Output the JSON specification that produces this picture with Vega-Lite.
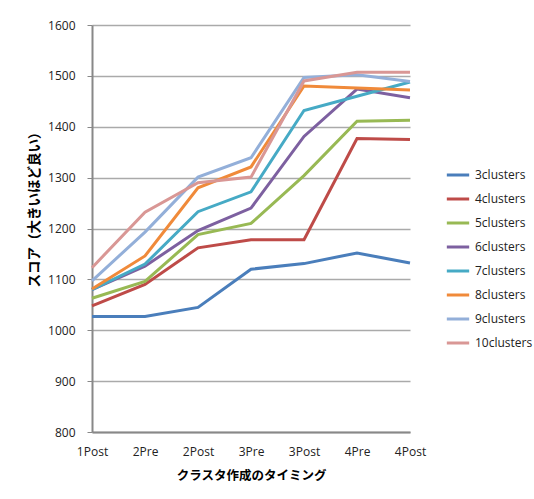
{
  "$schema": "https://vega.github.io/schema/vega-lite/v6.json",
  "width": 318,
  "height": 407,
  "autosize": "none",
  "padding": {"left": 92, "top": 25, "right": 124, "bottom": 67},
  "background": "white",
  "config": {
    "font": "Open Sans",
    "view": {"stroke": null}
  },
  "data": {
    "values": [
      {"t": "1Post", "series": "3clusters", "score": 1027},
      {"t": "2Pre", "series": "3clusters", "score": 1027},
      {"t": "2Post", "series": "3clusters", "score": 1045},
      {"t": "3Pre", "series": "3clusters", "score": 1120},
      {"t": "3Post", "series": "3clusters", "score": 1131},
      {"t": "4Pre", "series": "3clusters", "score": 1152},
      {"t": "4Post", "series": "3clusters", "score": 1132},
      {"t": "1Post", "series": "4clusters", "score": 1048},
      {"t": "2Pre", "series": "4clusters", "score": 1090},
      {"t": "2Post", "series": "4clusters", "score": 1162},
      {"t": "3Pre", "series": "4clusters", "score": 1178},
      {"t": "3Post", "series": "4clusters", "score": 1178},
      {"t": "4Pre", "series": "4clusters", "score": 1377},
      {"t": "4Post", "series": "4clusters", "score": 1375},
      {"t": "1Post", "series": "5clusters", "score": 1063},
      {"t": "2Pre", "series": "5clusters", "score": 1096},
      {"t": "2Post", "series": "5clusters", "score": 1188},
      {"t": "3Pre", "series": "5clusters", "score": 1210},
      {"t": "3Post", "series": "5clusters", "score": 1304},
      {"t": "4Pre", "series": "5clusters", "score": 1411},
      {"t": "4Post", "series": "5clusters", "score": 1413},
      {"t": "1Post", "series": "6clusters", "score": 1080},
      {"t": "2Pre", "series": "6clusters", "score": 1126},
      {"t": "2Post", "series": "6clusters", "score": 1196},
      {"t": "3Pre", "series": "6clusters", "score": 1240},
      {"t": "3Post", "series": "6clusters", "score": 1381},
      {"t": "4Pre", "series": "6clusters", "score": 1474},
      {"t": "4Post", "series": "6clusters", "score": 1457},
      {"t": "1Post", "series": "7clusters", "score": 1080},
      {"t": "2Pre", "series": "7clusters", "score": 1130},
      {"t": "2Post", "series": "7clusters", "score": 1233},
      {"t": "3Pre", "series": "7clusters", "score": 1272},
      {"t": "3Post", "series": "7clusters", "score": 1432},
      {"t": "4Pre", "series": "7clusters", "score": 1460},
      {"t": "4Post", "series": "7clusters", "score": 1488},
      {"t": "1Post", "series": "8clusters", "score": 1081},
      {"t": "2Pre", "series": "8clusters", "score": 1146},
      {"t": "2Post", "series": "8clusters", "score": 1280},
      {"t": "3Pre", "series": "8clusters", "score": 1321},
      {"t": "3Post", "series": "8clusters", "score": 1480},
      {"t": "4Pre", "series": "8clusters", "score": 1476},
      {"t": "4Post", "series": "8clusters", "score": 1472},
      {"t": "1Post", "series": "9clusters", "score": 1097},
      {"t": "2Pre", "series": "9clusters", "score": 1193},
      {"t": "2Post", "series": "9clusters", "score": 1301},
      {"t": "3Pre", "series": "9clusters", "score": 1339},
      {"t": "3Post", "series": "9clusters", "score": 1497},
      {"t": "4Pre", "series": "9clusters", "score": 1502},
      {"t": "4Post", "series": "9clusters", "score": 1489},
      {"t": "1Post", "series": "10clusters", "score": 1123},
      {"t": "2Pre", "series": "10clusters", "score": 1232},
      {"t": "2Post", "series": "10clusters", "score": 1290},
      {"t": "3Pre", "series": "10clusters", "score": 1301},
      {"t": "3Post", "series": "10clusters", "score": 1490},
      {"t": "4Pre", "series": "10clusters", "score": 1507},
      {"t": "4Post", "series": "10clusters", "score": 1507}
    ]
  },
  "mark": {"type": "line", "strokeWidth": 3, "strokeJoin": "miter"},
  "encoding": {
    "x": {
      "field": "t",
      "type": "ordinal",
      "sort": null,
      "scale": {"type": "point", "padding": 0},
      "axis": {
        "title": "クラスタ作成のタイミング",
        "titleFont": "Noto Sans CJK JP",
        "titleFontWeight": "bold",
        "titleFontSize": 12.5,
        "titleColor": "#000000",
        "titlePadding": 12,
        "labelAngle": 0,
        "labelFontSize": 12,
        "labelColor": "#222222",
        "labelPadding": 14,
        "ticks": false,
        "grid": false,
        "domainColor": "#888888",
        "domainWidth": 2
      }
    },
    "y": {
      "field": "score",
      "type": "quantitative",
      "scale": {"domain": [800, 1600], "nice": false, "zero": false},
      "axis": {
        "title": "スコア（大きいほど良い）",
        "titleFont": "Noto Sans CJK JP",
        "titleFontWeight": "bold",
        "titleFontSize": 13.5,
        "titleColor": "#000000",
        "titlePadding": 6,
        "titleY": 181,
        "format": "d",
        "values": [800, 900, 1000, 1100, 1200, 1300, 1400, 1500, 1600],
        "labelFontSize": 12,
        "labelColor": "#222222",
        "labelPadding": 12,
        "tickSize": 5,
        "tickColor": "#888888",
        "gridColor": "#aaaaaa",
        "gridWidth": 1.5,
        "domainColor": "#888888",
        "domainWidth": 2
      }
    },
    "color": {
      "field": "series",
      "type": "nominal",
      "scale": {
        "domain": ["3clusters", "4clusters", "5clusters", "6clusters", "7clusters", "8clusters", "9clusters", "10clusters"],
        "range": ["#4a7ebb", "#be4b48", "#98b954", "#7d60a0", "#46aac5", "#f08a3a", "#93afd9", "#d99795"]
      },
      "legend": {
        "title": null,
        "orient": "none",
        "legendX": 353,
        "legendY": 137,
        "symbolType": "stroke",
        "symbolStrokeWidth": 3,
        "symbolSize": 500,
        "rowPadding": 5,
        "labelFontSize": 12,
        "labelColor": "#222222",
        "labelOffset": 4
      }
    }
  }
}
